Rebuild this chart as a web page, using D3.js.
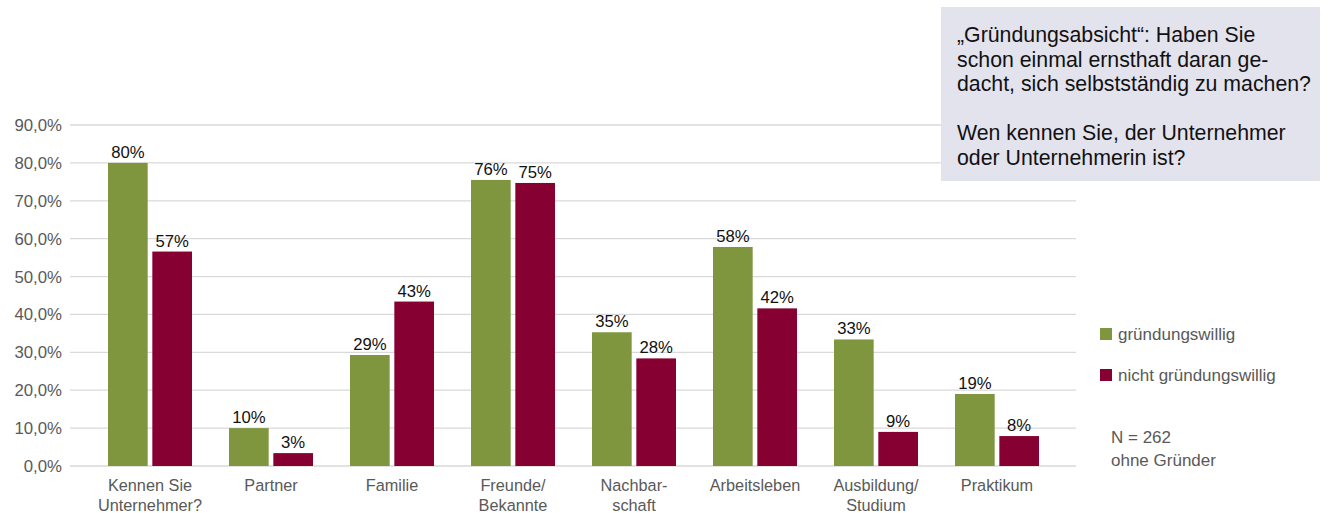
<!DOCTYPE html>
<html>
<head>
<meta charset="utf-8">
<script src="https://cdn.jsdelivr.net/npm/d3@7.9.0/dist/d3.min.js"></script>
<style>
  body { margin: 0; background: #fff; }
  svg { display: block; font-family: "Liberation Sans", Arial, sans-serif; }
</style>
</head>
<body>
<svg id="chart" width="1339" height="513"></svg>
<script>
// data
const categories = [
  ['Kennen Sie', 'Unternehmer?'], ['Partner'], ['Familie'], ['Freunde/', 'Bekannte'],
  ['Nachbar-', 'schaft'], ['Arbeitsleben'], ['Ausbildung/', 'Studium'], ['Praktikum']
];
const seriesNames = ['gründungswillig', 'nicht gründungswillig'];
const willig = [80.0, 10.0, 29.3, 75.5, 35.3, 57.8, 33.4, 19.0];
const nichtWillig = [56.6, 3.4, 43.4, 74.7, 28.4, 41.6, 9.0, 7.9];
const yTicks = [0, 10, 20, 30, 40, 50, 60, 70, 80, 90];
const boxLines = [
  '„Gründungsabsicht“: Haben Sie',
  'schon einmal ernsthaft daran ge-',
  'dacht, sich selbstständig zu machen?',
  '',
  'Wen kennen Sie, der Unternehmer',
  'oder Unternehmerin ist?'
];
const noteLines = ['N = 262', 'ohne Gründer'];

const colors = ['#7f963e', '#870032'];
const svg = d3.select('#chart');

const y = d3.scaleLinear().domain([0, 90]).range([466, 125]);
const x = d3.scaleBand().domain(d3.range(categories.length)).range([89.5, 1057.5]);
const xs = d3.scaleBand().domain([0, 1]).range([18.5, 102.5]).paddingInner(0.105);

// gridlines
svg.append('g')
  .selectAll('line')
  .data(yTicks)
  .join('line')
  .attr('x1', 70).attr('x2', 1076)
  .attr('y1', d => y(d)).attr('y2', d => y(d))
  .attr('stroke', '#d9d9d9')
  .attr('stroke-width', 1.3);

// y axis labels
svg.append('g')
  .selectAll('text')
  .data(yTicks)
  .join('text')
  .attr('x', 62)
  .attr('y', d => y(d) + 6)
  .attr('text-anchor', 'end')
  .attr('font-size', 16.8)
  .attr('fill', '#595959')
  .text(d => d.toFixed(1).replace('.', ',') + '%');

// bars
const series = [willig, nichtWillig];
series.forEach((vals, s) => {
  const g = svg.append('g');
  g.selectAll('rect')
    .data(vals)
    .join('rect')
    .attr('x', (d, i) => x(i) + xs(s))
    .attr('width', xs.bandwidth())
    .attr('y', d => y(d))
    .attr('height', d => y(0) - y(d))
    .attr('fill', colors[s]);
  g.selectAll('text')
    .data(vals)
    .join('text')
    .attr('x', (d, i) => x(i) + xs(s) + xs.bandwidth() / 2)
    .attr('y', d => y(d) - 5)
    .attr('text-anchor', 'middle')
    .attr('font-size', 16.7)
    .attr('fill', '#111')
    .text(d => Math.round(d) + '%');
});

// category labels
const cat = svg.append('g')
  .selectAll('text')
  .data(categories)
  .join('text')
  .attr('text-anchor', 'middle')
  .attr('font-size', 16.3)
  .attr('fill', '#595959');
cat.each(function(lines, i) {
  d3.select(this).selectAll('tspan')
    .data(lines)
    .join('tspan')
    .attr('x', x(i) + x.bandwidth() / 2)
    .attr('y', (d, j) => 491 + j * 19.5)
    .text(d => d);
});

// legend
const leg = svg.append('g');
seriesNames.forEach((name, s) => {
  leg.append('rect')
    .attr('x', 1100).attr('y', 328 + s * 41)
    .attr('width', 12).attr('height', 12)
    .attr('fill', colors[s]);
  leg.append('text')
    .attr('x', 1118).attr('y', 340 + s * 41)
    .attr('font-size', 17)
    .attr('fill', '#595959')
    .text(name);
});

svg.append('g')
  .selectAll('text')
  .data(noteLines)
  .join('text')
  .attr('x', 1111)
  .attr('y', (d, i) => 443 + i * 23)
  .attr('font-size', 17)
  .attr('fill', '#595959')
  .text(d => d);

// question box
svg.append('rect')
  .attr('x', 941).attr('y', 7)
  .attr('width', 379).attr('height', 174)
  .attr('fill', '#e3e3ee');
svg.append('g')
  .selectAll('text')
  .data(boxLines)
  .join('text')
  .attr('x', 957)
  .attr('y', (d, i) => 42 + i * 24.5)
  .attr('font-size', 21.3)
  .attr('fill', '#111')
  .text(d => d);
</script>
</body>
</html>
